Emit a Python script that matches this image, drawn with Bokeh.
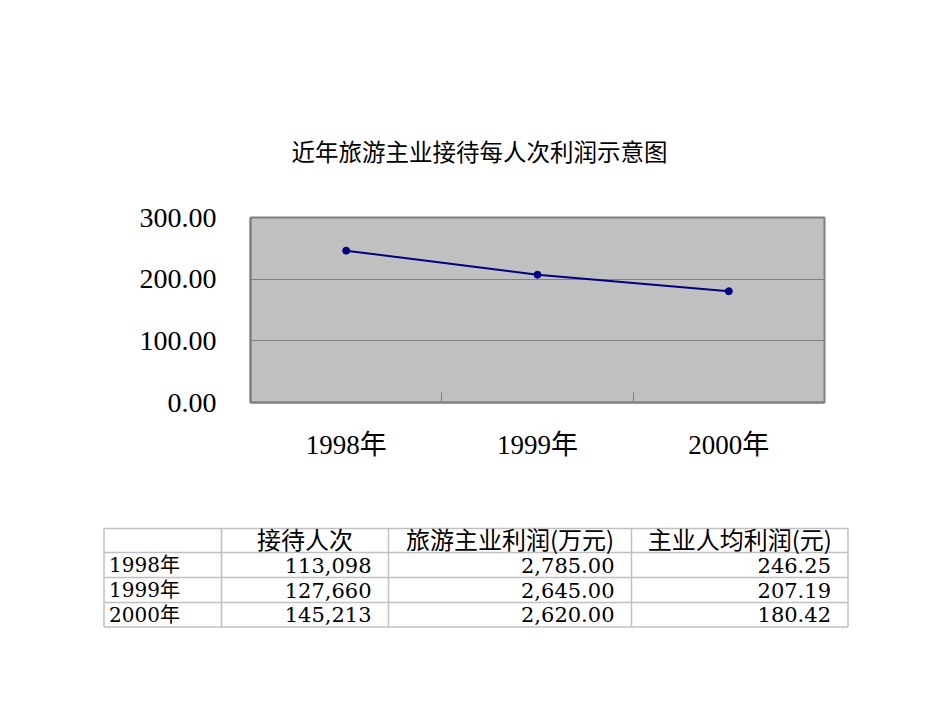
from bokeh.plotting import figure
from bokeh.models import Range1d, FixedTicker, PrintfTickFormatter, ColumnDataSource
from bokeh.core.properties import value
from bokeh.embed import file_html
from bokeh.resources import INLINE

# ---- data ----
title_text = "近年旅游主业接待每人次利润示意图"
years = ["1998年", "1999年", "2000年"]
visitors = [113098, 127660, 145213]
profit_wan = [2785.00, 2645.00, 2620.00]
per_capita = [246.25, 207.19, 180.42]
y_ticks = [0, 100, 200, 300]
headers = ["", "接待人次", "旅游主业利润(万元)", "主业人均利润(元)"]

# ---- chart ----
W = 934
H1 = 490
xs = [i + 0.5 for i in range(len(years))]
between = [i for i in range(1, len(years))]

p = figure(width=W, height=H1, x_range=Range1d(0, len(years)), y_range=Range1d(y_ticks[0], y_ticks[-1]),
           output_backend="svg", toolbar_location=None,
           min_border_left=250, min_border_right=110, min_border_top=217, min_border_bottom=88)
p.background_fill_color = "#C0C0C0"
p.border_fill_color = "white"
p.outline_line_color = "#808080"
p.outline_line_width = 2

p.title.text = title_text
p.title.text_font = "Noto Sans CJK SC"
p.title.text_font_size = "23.5px"
p.title.text_font_style = "normal"
p.title.text_color = "black"
p.title.align = "left"
p.title.offset = 41
p.title.standoff = 99

ya = p.yaxis[0]
ya.ticker = FixedTicker(ticks=y_ticks)
ya.formatter = PrintfTickFormatter(format="%.2f")
ya.major_label_text_font = "Liberation Serif"
ya.major_label_text_font_size = "28px"
ya.major_label_text_color = "black"
ya.major_label_standoff = 34
ya.major_tick_in = 8
ya.major_tick_out = 0
ya.major_tick_line_color = "#808080"
ya.minor_tick_line_color = None
ya.axis_line_color = "#808080"
ya.axis_line_width = 2

xa = p.xaxis[0]
xa.ticker = FixedTicker(ticks=xs, minor_ticks=between)
xa.major_label_overrides = {x: y for x, y in zip(xs, years)}
xa.major_label_text_font = "Liberation Serif, Noto Sans CJK SC"
xa.major_label_text_font_size = "27px"
xa.major_label_text_color = "black"
xa.major_label_standoff = 21
xa.major_tick_line_color = None
xa.minor_tick_in = 10
xa.minor_tick_out = 0
xa.minor_tick_line_color = "#808080"
xa.axis_line_color = "#808080"
xa.axis_line_width = 2

p.xgrid.visible = False
p.ygrid.ticker = FixedTicker(ticks=y_ticks)
p.ygrid.grid_line_color = "#808080"
p.ygrid.grid_line_width = 1

src = ColumnDataSource(dict(x=xs, y=per_capita))
p.line("x", "y", source=src, line_color="#000080", line_width=2)
p.scatter("x", "y", source=src, size=7, color="#000080")

# ---- table ----
H2 = 200
t = figure(width=W, height=H2, x_range=Range1d(0, W), y_range=Range1d(H2, 0),
           output_backend="svg", toolbar_location=None, min_border=0,
           x_axis_location=None, y_axis_location=None)
t.outline_line_color = None
t.xgrid.visible = False
t.ygrid.visible = False
t.background_fill_color = "white"
t.border_fill_color = "white"

col_edges = [103.5, 221, 388, 631, 847.5]
row_edges = [38, 62, 87, 112, 136.5]
grid_col = "#C0C0C0"
t.segment(x0=col_edges, y0=[row_edges[0]] * len(col_edges), x1=col_edges, y1=[row_edges[-1]] * len(col_edges),
          line_color=grid_col, line_width=1.5)
t.segment(x0=[col_edges[0]] * len(row_edges), y0=row_edges, x1=[col_edges[-1]] * len(row_edges), y1=row_edges,
          line_color=grid_col, line_width=1.5)

row_mid = [(row_edges[i] + row_edges[i + 1]) / 2 for i in range(len(row_edges) - 1)]
col_mid = [(col_edges[i] + col_edges[i + 1]) / 2 for i in range(len(col_edges) - 1)]

# header
t.text(x=col_mid[1:], y=[row_mid[0] - 2] * 3, text=headers[1:], text_align="center", text_baseline="middle",
       text_font=value("Noto Sans CJK SC"), text_font_size="24px", text_color="black")
# row labels
t.text(x=[col_edges[0] + 5] * len(years), y=row_mid[1:], text=years, text_align="left", text_baseline="middle",
       text_font=value("DejaVu Serif, Noto Sans CJK SC"), text_font_size="20px", text_color="black")
cols_text = [
    [f"{v:,}" for v in visitors],
    [f"{v:,.2f}" for v in profit_wan],
    [f"{v:.2f}" for v in per_capita],
]
for ci, vals in enumerate(cols_text):
    t.text(x=[col_edges[ci + 2] - 17] * len(vals), y=row_mid[1:], text=vals, text_align="right",
           text_baseline="middle", text_font=value("DejaVu Serif"), text_font_size="21px", text_color="black")

open("out.html", "w").write(file_html([p, t], INLINE))
